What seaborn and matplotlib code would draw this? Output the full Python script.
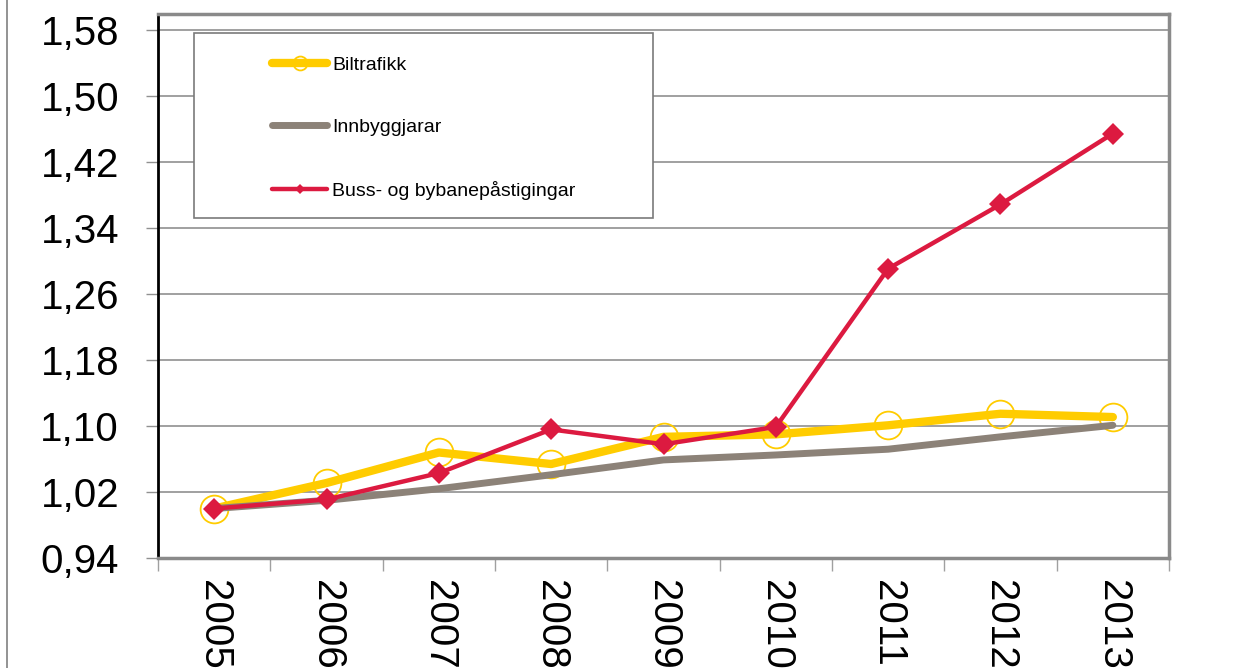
import matplotlib
matplotlib.use("Agg")
import matplotlib.pyplot as plt
import matplotlib.ticker as mticker
from matplotlib.patches import Rectangle
from matplotlib.lines import Line2D
import seaborn as sns
import pandas as pd

years = ["2005", "2006", "2007", "2008", "2009", "2010", "2011", "2012", "2013"]
biltrafikk = [1.000, 1.031, 1.068, 1.054, 1.087, 1.090, 1.101, 1.115, 1.111]
innbyggjarar = [1.000, 1.010, 1.024, 1.041, 1.059, 1.065, 1.072, 1.087, 1.101]
buss = [1.000, 1.011, 1.043, 1.096, 1.078, 1.099, 1.291, 1.369, 1.455]
yticks = [0.94, 1.02, 1.10, 1.18, 1.26, 1.34, 1.42, 1.50, 1.58]

sns.set_theme(style="white")
plt.rcParams["font.family"] = ["Liberation Sans", "DejaVu Sans"]

W, H = 1253, 668
fig = plt.figure(figsize=(W / 100, H / 100), dpi=100)
ax = fig.add_axes([158 / W, 1 - 558 / H, (1169 - 158) / W, (558 - 14) / H])

df = pd.DataFrame({"year": years, "Biltrafikk": biltrafikk,
                   "Innbyggjarar": innbyggjarar,
                   "Buss- og bybanepåstigingar": buss})

sns.lineplot(data=df, x="year", y="Biltrafikk", ax=ax, color="#FFCC00", lw=6,
             marker="o", markersize=20, markerfacecolor="none",
             markeredgecolor="#FFCC00", markeredgewidth=1.3,
             label="Biltrafikk", zorder=2, sort=False)
sns.lineplot(data=df, x="year", y="Innbyggjarar", ax=ax, color="#8C8278", lw=5,
             label="Innbyggjarar", zorder=3, sort=False)
sns.lineplot(data=df, x="year", y="Buss- og bybanepåstigingar", ax=ax,
             color="#DC1A40", lw=3.2, marker="D", markersize=11,
             markeredgewidth=0, label="Buss- og bybanepåstigingar",
             zorder=4, sort=False)

ax.set_xlim(-0.5, len(years) - 0.5)
ax.set_ylim(0.94, 1.60)
ax.set_yticks(yticks)
ax.yaxis.set_major_formatter(mticker.FuncFormatter(lambda v, p: f"{v:.2f}".replace(".", ",")))
ax.set_xlabel("")
ax.set_ylabel("")

ax.grid(axis="y", color="#A0A0A0", lw=1.4)
ax.grid(axis="x", visible=False)
ax.set_axisbelow(True)

ax.tick_params(axis="y", which="major", direction="out", length=9, width=1,
               color="#909090", labelsize=29, pad=19, left=True, labelcolor="black")
ax.set_xticks([i - 0.5 for i in range(len(years) + 1)], minor=True)
ax.tick_params(axis="x", which="minor", direction="out", length=9, width=1,
               color="#A0A0A0", bottom=True)
ax.tick_params(axis="x", which="major", length=0, labelsize=29, pad=16,
               labelrotation=270, labelcolor="black")
for lab in ax.get_xticklabels():
    lab.set_va("top")
    lab.set_ha("center")

ax.spines["left"].set_color("black")
ax.spines["left"].set_linewidth(2)
for s in ["top", "right", "bottom"]:
    ax.spines[s].set_color("#8A8A8A")
    ax.spines[s].set_linewidth(2.5)

# legend frame
ax.add_patch(Rectangle((194 / W, 1 - 218 / H), (653 - 194) / W, (218 - 33) / H,
                       transform=fig.transFigure, facecolor="white",
                       edgecolor="#7A7A7A", lw=1.2, zorder=5, clip_on=False))
handles, labels = ax.get_legend_handles_labels()
leg = ax.legend(handles, labels, loc="upper left",
                bbox_to_anchor=(272 / W, 1 - 56 / H), bbox_transform=fig.transFigure,
                frameon=False, fontsize=14, labelspacing=2.3, handlelength=2.83,
                handletextpad=0.26, borderpad=0, borderaxespad=0, markerscale=0.5,
                labelcolor="black")
leg.set_zorder(6)

fig.add_artist(Line2D([7 / W, 7 / W], [0, 1], transform=fig.transFigure,
                      color="#808080", lw=1.2))

fig.savefig("out.png", dpi=100)
